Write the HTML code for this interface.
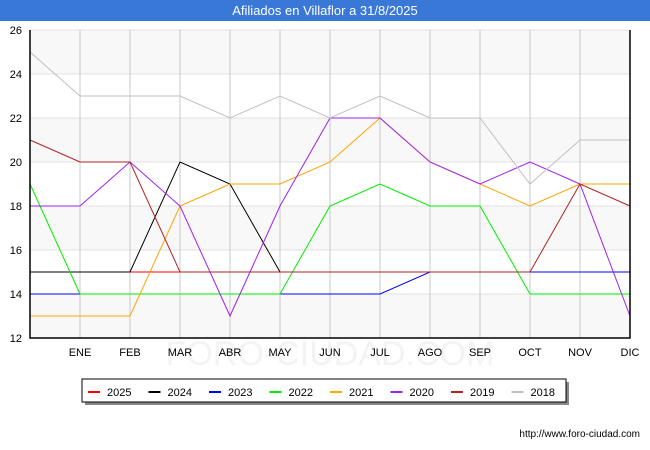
<!DOCTYPE html>
<html><head><meta charset="utf-8"><style>
body{margin:0;background:#fff;font-family:"Liberation Sans",sans-serif}
#wrap{position:relative;width:650px;height:450px;overflow:hidden}
#title{position:absolute;left:0;top:0;width:650px;height:21px;background:#3a78d8;color:#fff;font-size:13px;line-height:21px;text-align:center}
</style></head><body>
<div id="wrap">
<div id="title">Afiliados en Villaflor a 31/8/2025</div>
<svg id="svg" width="650" height="450" style="position:absolute;left:0;top:0"></svg>
</div>
<script>
const categories=["","ENE","FEB","MAR","ABR","MAY","JUN","JUL","AGO","SEP","OCT","NOV","DIC"];
const yTicks=[12,14,16,18,20,22,24,26];
const seriesNames=["2025","2024","2023","2022","2021","2020","2019","2018"];
const seriesColors=["#ff0000","#000000","#0000ff","#00ee00","#ffa500","#a020f0","#b22222","#c0c0c0"];
const s2025=[15,15,15,15,15,15,15,15,15];
const s2024=[15,15,15,20,19,15];
const s2023=[14,14,14,14,14,14,14,14,15,15,15,15,15];
const s2022=[19,14,14,14,14,14,18,19,18,18,14,14,14];
const s2021=[13,13,13,18,19,19,20,22,20,19,18,19,19];
const s2020=[18,18,20,18,13,18,22,22,20,19,20,19,13];
const s2019=[21,20,20,15,15,15,15,15,15,15,15,19,18];
const s2018=[25,23,23,23,22,23,22,23,22,22,19,21,21];
const allSeries=[s2025,s2024,s2023,s2022,s2021,s2020,s2019,s2018];
const NS="http://www.w3.org/2000/svg";
const svg=document.getElementById('svg');
const L=30,R=630,T=30,B=338,ymin=12,ymax=26;
const x=i=>L+i*(R-L)/(categories.length-1);
const y=v=>B-(v-ymin)*(B-T)/(ymax-ymin);
function mk(t,a){const e=document.createElementNS(NS,t);for(const k in a)e.setAttribute(k,a[k]);svg.appendChild(e);return e;}
for(let i=0;i<yTicks.length-1;i++){
 if(i%2==0){const r=mk('rect',{x:L,y:y(yTicks[i+1]),width:R-L,height:y(yTicks[i])-y(yTicks[i+1]),fill:'#f8f8f8'});
 
 }
}
const wm=mk('text',{x:330,y:365,'text-anchor':'middle','font-size':34,fill:'#f3f3f3'});wm.textContent='FORO-CIUDAD.COM';


yTicks.forEach(v=>{const g=mk('line',{x1:L,x2:R,y1:y(v),y2:y(v),stroke:'#e0e0e0'});
 
 
 const t=mk('text',{x:L-8,y:y(v)+4,'text-anchor':'end','font-size':11,fill:'#000'});t.textContent=v;
 
 });
categories.forEach((c,i)=>{if(i>0){const g=mk('line',{x1:x(i),x2:x(i),y1:T,y2:B,stroke:'#c8c8c8'});
 
 }
 const t=mk('text',{x:x(i),y:B+18,'text-anchor':'middle','font-size':11,fill:'#000'});t.textContent=c;
 
 });
for(let s=0;s<allSeries.length;s++){
 const d=allSeries[s].map((v,i)=>(i?'L':'M')+x(i)+','+y(v)).join(' ');
 const p=mk('path',{d:d,fill:'none',stroke:seriesColors[s],'stroke-width':1});
 
 
}
mk('path',{d:`M${L},${T}V${B}H${R}V${T}`,fill:'none',stroke:'#000','stroke-width':1.5});
mk('rect',{x:85,y:382,width:484,height:23,fill:'#888'});
const lg=mk('rect',{x:82,y:379,width:484,height:23,fill:'#fff',stroke:'#000'});


seriesNames.forEach((n,i)=>{const lx=88+i*60.5;
 const l=mk('line',{x1:lx,x2:lx+12,y1:392,y2:392,stroke:seriesColors[i],'stroke-width':2});
 
 
 const t=mk('text',{x:lx+19,y:396,'font-size':11,fill:'#000'});t.textContent=n;
 
 });
const u=mk('text',{x:640,y:437,'text-anchor':'end','font-size':10,fill:'#000'});u.textContent='http://www.foro-ciudad.com';


</script>
</body></html>
